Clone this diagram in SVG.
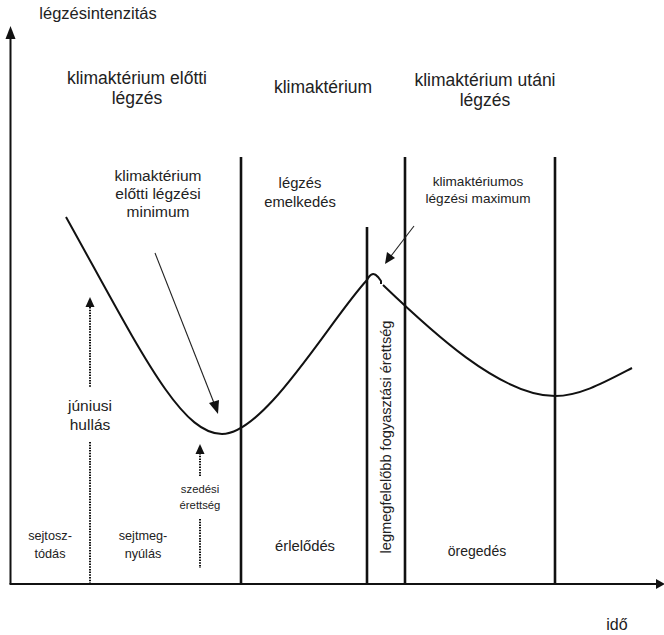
<svg xmlns="http://www.w3.org/2000/svg" width="664" height="635" viewBox="0 0 664 635">
<style>
text{font-family:"Liberation Sans",Arial,sans-serif;fill:#222;text-anchor:middle}
.h{font-size:17.5px}
.ax{stroke:#111;stroke-width:2;fill:none}
.vl{stroke:#111;stroke-width:2.6;fill:none}
.cv{stroke:#111;stroke-width:2;fill:none}
.dot{stroke:#111;stroke-width:2;stroke-dasharray:1.5 1.2;fill:none}
.thin{stroke:#222;stroke-width:1.1;fill:none}
.ah{fill:#111}
</style>
<rect width="664" height="635" fill="#fff"/>
<g id="connectors">
  <line class="ax" x1="10.5" y1="584" x2="10.5" y2="36"/>
  <polygon class="ah" points="10.5,26 5.5,39 15.5,39"/>
  <line class="ax" x1="9.5" y1="584" x2="657" y2="584"/>
  <polygon class="ah" points="665,584 656,579 656,589"/>
  <line class="vl" x1="241" y1="157" x2="241" y2="584"/>
  <line class="vl" x1="367" y1="227" x2="367" y2="584"/>
  <line class="vl" x1="405" y1="157" x2="405" y2="584"/>
  <line class="vl" x1="555" y1="157" x2="555" y2="584"/>
  <path class="cv" d="M66,217 C140,350 180,434 222,434 C265,434 330,320 367,280 Q372,270 378,277 L381,281 L381,284"/>
  <path class="cv" d="M383,285 C430,330 500,396 555,396 C580,396 605,382 632,368"/>
  <line class="dot" x1="90" y1="307" x2="90" y2="388"/>
  <polygon class="ah" points="90,297 85.5,307 94.5,307"/>
  <line class="dot" x1="90" y1="442" x2="90" y2="583"/>
  <line class="dot" x1="200" y1="453" x2="200" y2="477"/>
  <polygon class="ah" points="200,444 195.5,454 204.5,454"/>
  <line class="dot" x1="200" y1="519" x2="200" y2="568"/>
  <line class="thin" x1="155" y1="253" x2="214" y2="403"/>
  <polygon class="ah" points="218,414 209,403 219,400"/>
  <line class="thin" x1="414" y1="226" x2="391" y2="256"/>
  <polygon class="ah" points="385,264 387,252 395,258"/>
</g>
<g id="axis-y-label"><text x="98" y="19" font-size="16.5">légzésintenzitás</text></g>
<g id="phase-pre"><text class="h" x="137" y="84">klimaktérium előtti</text><text class="h" x="137" y="104">légzés</text></g>
<g id="phase-klim"><text class="h" x="323" y="93">klimaktérium</text></g>
<g id="phase-post"><text class="h" x="485" y="86">klimaktérium utáni</text><text class="h" x="485" y="106">légzés</text></g>
<g id="label-min" font-size="15.5"><text x="158" y="181">klimaktérium</text><text x="158" y="199">előtti légzési</text><text x="158" y="217">minimum</text></g>
<g id="label-rise" font-size="14.8"><text x="300" y="188">légzés</text><text x="300" y="207">emelkedés</text></g>
<g id="label-max" font-size="13.6"><text x="478" y="186">klimaktériumos</text><text x="478" y="203">légzési maximum</text></g>
<g id="label-june" font-size="15.5"><text x="90" y="411">júniusi</text><text x="90" y="430">hullás</text></g>
<g id="label-harvest" font-size="11.3"><text x="200" y="493">szedési</text><text x="200" y="509">érettség</text></g>
<g id="label-division" font-size="12.7"><text x="50" y="540">sejtosz-</text><text x="50" y="558">tódás</text></g>
<g id="label-elong" font-size="12.7"><text x="143" y="540">sejtmeg-</text><text x="143" y="558">nyúlás</text></g>
<g id="label-ripen" font-size="14.8"><text x="305" y="551">érlelődés</text></g>
<g id="label-consume" font-size="14.6"><text transform="translate(391,437) rotate(-90)" x="0" y="0">legmegfelelőbb fogyasztási érettség</text></g>
<g id="label-aging" font-size="14"><text x="477" y="556">öregedés</text></g>
<g id="axis-x-label" font-size="16"><text x="617" y="630">idő</text></g>
</svg>
